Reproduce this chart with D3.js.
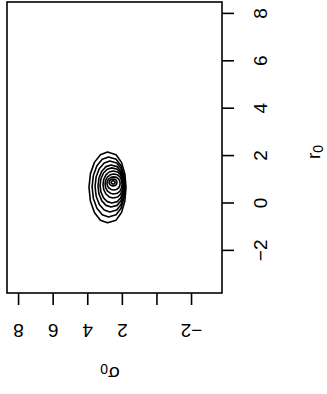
<!DOCTYPE html>
<html>
<head>
<meta charset="utf-8">
<script src="https://cdn.jsdelivr.net/npm/d3@7"></script>
<style>
  html, body { margin: 0; padding: 0; background: #fff; }
  svg { display: block; font-family: "Liberation Sans", Arial, sans-serif; }
</style>
</head>
<body>
<div id="chart"></div>
<script>
// contour rings of the (sigma0, r0) density, outermost first
const sigmaLeft  = [3.90, 3.72, 3.55, 3.38, 3.26, 3.09, 2.97, 2.86, 2.74, 2.62];
const sigmaRight = [1.76, 1.82, 1.84, 1.87, 1.90, 1.93, 1.99, 2.10, 2.28, 2.39];
const rTop       = [2.13, 1.92, 1.75, 1.58, 1.46, 1.33, 1.20, 1.08, 0.99, 0.91];
const rBottom    = [-0.86, -0.61, -0.40, -0.19, -0.02, 0.19, 0.36, 0.53, 0.70, 0.78];

const sigmaTicks = [8, 6, 4, 2, 0, -2];
const sigmaTickLabels = ["8", "6", "4", "2", "", "\u22122"];
const rTicks = [-2, 0, 2, 4, 6, 8];
const rTickLabels = ["\u22122", "0", "2", "4", "6", "8"];

const W = 327, H = 394;
const box = { left: 7, right: 222, top: 2, bottom: 293 };
const fontSize = 19;

const svg = d3.select("#chart").append("svg")
    .attr("width", W)
    .attr("height", H);

// sigma0 runs right-to-left, r0 bottom-to-top
const x = d3.scaleLinear().domain([8.64, -3.79]).range([box.left, box.right]);
const y = d3.scaleLinear().domain([8.46, -3.82]).range([box.top, box.bottom]);

// contours
const line = d3.line()
    .x(d => x(d[0]))
    .y(d => y(d[1]))
    .curve(d3.curveLinearClosed);

const rings = sigmaLeft.map((sl, i) => {
    const sr = sigmaRight[i];
    const sc = (sl + sr) / 2, a = (sl - sr) / 2;
    const rc = (rTop[i] + rBottom[i]) / 2, b = (rTop[i] - rBottom[i]) / 2;
    const n = 16;
    return d3.range(n).map(k => {
        const t = k / n * 2 * Math.PI;
        const c = Math.cos(t), s = Math.sin(t);
        // a little flatter on the low-sigma side
        const cx = c >= 0 ? c : -Math.pow(-c, 0.8);
        return [sc + a * cx, rc + b * s];
    });
});

svg.append("g")
    .selectAll("path")
    .data(rings)
    .enter()
    .append("path")
    .attr("d", line)
    .attr("fill", "none")
    .attr("stroke", "#000")
    .attr("stroke-width", 1.6)
    .attr("stroke-linejoin", "round");

// frame
svg.append("rect")
    .attr("x", box.left)
    .attr("y", box.top)
    .attr("width", box.right - box.left)
    .attr("height", box.bottom - box.top)
    .attr("fill", "none")
    .attr("stroke", "#000")
    .attr("stroke-width", 1.6);

// bottom axis (sigma0), labels upside down
const xAxis = svg.append("g")
    .attr("transform", `translate(0, ${box.bottom})`)
    .call(d3.axisBottom(x).tickValues(sigmaTicks).tickSize(12).tickFormat((d, i) => sigmaTickLabels[i]));
xAxis.select(".domain").remove();
xAxis.selectAll(".tick line").attr("stroke", "#000").attr("stroke-width", 1.6);
xAxis.selectAll(".tick text")
    .attr("font-size", fontSize)
    .attr("font-family", "Liberation Sans, Arial, sans-serif")
    .attr("fill", "#000")
    .attr("y", 0)
    .attr("dy", null)
    .attr("text-anchor", "middle")
    .attr("dominant-baseline", "central")
    .attr("transform", "translate(0, 37) rotate(180)");

// right axis (r0), labels reading upwards
const yAxis = svg.append("g")
    .attr("transform", `translate(${box.right}, 0)`)
    .call(d3.axisRight(y).tickValues(rTicks).tickSize(12).tickFormat((d, i) => rTickLabels[i]));
yAxis.select(".domain").remove();
yAxis.selectAll(".tick line").attr("stroke", "#000").attr("stroke-width", 1.6);
yAxis.selectAll(".tick text")
    .attr("font-size", fontSize)
    .attr("font-family", "Liberation Sans, Arial, sans-serif")
    .attr("fill", "#000")
    .attr("x", 0)
    .attr("dy", null)
    .attr("text-anchor", "middle")
    .attr("dominant-baseline", "central")
    .attr("transform", "translate(38, 0) rotate(-90)");

// axis titles
const sTitle = svg.append("text")
    .attr("transform", `translate(110, 374) rotate(180)`)
    .attr("text-anchor", "middle")
    .attr("dominant-baseline", "central")
    .attr("font-size", fontSize);
sTitle.append("tspan").text("\u03c3");
sTitle.append("tspan").attr("font-size", 14).attr("dy", 5).text("0");

const rTitle = svg.append("text")
    .attr("transform", `translate(313, 152) rotate(-90)`)
    .attr("text-anchor", "middle")
    .attr("dominant-baseline", "central")
    .attr("font-size", fontSize);
rTitle.append("tspan").text("r");
rTitle.append("tspan").attr("font-size", 14).attr("dy", 5).text("0");
</script>
</body>
</html>
